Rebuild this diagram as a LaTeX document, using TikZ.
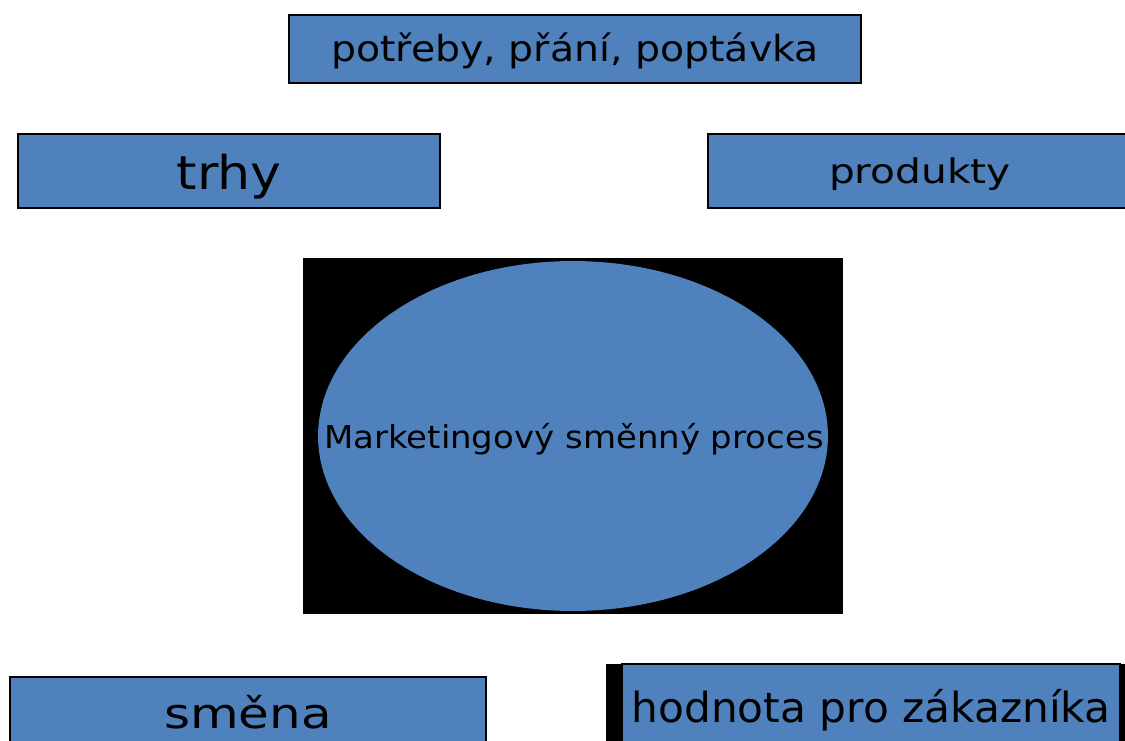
\documentclass[tikz,border=0pt]{standalone}
\usepackage{fontspec}
\setmainfont{DejaVu Sans}
\newfontfamily\needsfont[FakeStretch=1.1]{DejaVu Sans}
\newfontfamily\marketsfont[FakeStretch=1.12]{DejaVu Sans}
\newfontfamily\productsfont[FakeStretch=1.2]{DejaVu Sans}
\newfontfamily\processfont[FakeStretch=1.08]{DejaVu Sans}
\newfontfamily\exchangefont[FakeStretch=1.2]{DejaVu Sans}
\newfontfamily\valuefont[FakeStretch=1.02]{DejaVu Sans}
\usepackage{tikz}
\usetikzlibrary{positioning}
\definecolor{boxblue}{HTML}{4F81BD}
\definecolor{ink}{HTML}{000000}
\tikzset{
    termbox/.style={draw=ink,fill=boxblue,line width=1.2pt,inner sep=0pt,
      text=ink,align=center,text depth=0pt},
    shadowbox/.style={fill=ink,inner sep=0pt}
}

\begin{document}
\begin{tikzpicture}[x=0.02cm,y=-0.02cm]
  \clip (0,0) rectangle (1125,740);
  \fill[white] (0,0) rectangle (1125,740);
  % top row
  \node[termbox,minimum width=11.44cm,minimum height=1.36cm,text height=0.52cm,
    font=\needsfont\fontsize{20.4}{24}\selectfont] (needs) at (575,49)
    {potřeby, přání, poptávka};
  \node[termbox,minimum width=8.44cm,minimum height=1.48cm,text height=0.76cm,
    font=\marketsfont\fontsize{26.5}{30}\selectfont] (markets) at (229,171) {trhy};
  \node[termbox,minimum width=8.48cm,minimum height=1.48cm,text height=0.5cm,
    font=\productsfont\fontsize{19.3}{23}\selectfont] (products) at (920,171) {produkty};
  % centre
  \node[shadowbox,minimum width=10.8cm,minimum height=7.12cm] (procbg) at (573,436) {};
  \fill[boxblue] (procbg.center) ellipse[x radius=5.1cm,y radius=3.5cm];
  \node[text=ink,inner sep=0pt,text height=0.44cm,text depth=0pt,
    font=\processfont\fontsize{17.9}{21}\selectfont] (process) at (574,437)
    {Marketingový směnný proces};
  % bottom row
  \node[termbox,minimum width=9.52cm,minimum height=1.48cm,text height=0.56cm,
    font=\exchangefont\fontsize{23.7}{28}\selectfont] (exchange) at (248,714) {směna};
  \node[shadowbox,minimum width=10.58cm,minimum height=1.76cm] (valuebg) at (870,708) {};
  \node[termbox,minimum width=9.96cm,minimum height=1.76cm,text height=0.56cm,
    font=\valuefont\fontsize{23.6}{28}\selectfont] (value) at (871,708)
    {hodnota pro zákazníka};
\end{tikzpicture}
\end{document}
